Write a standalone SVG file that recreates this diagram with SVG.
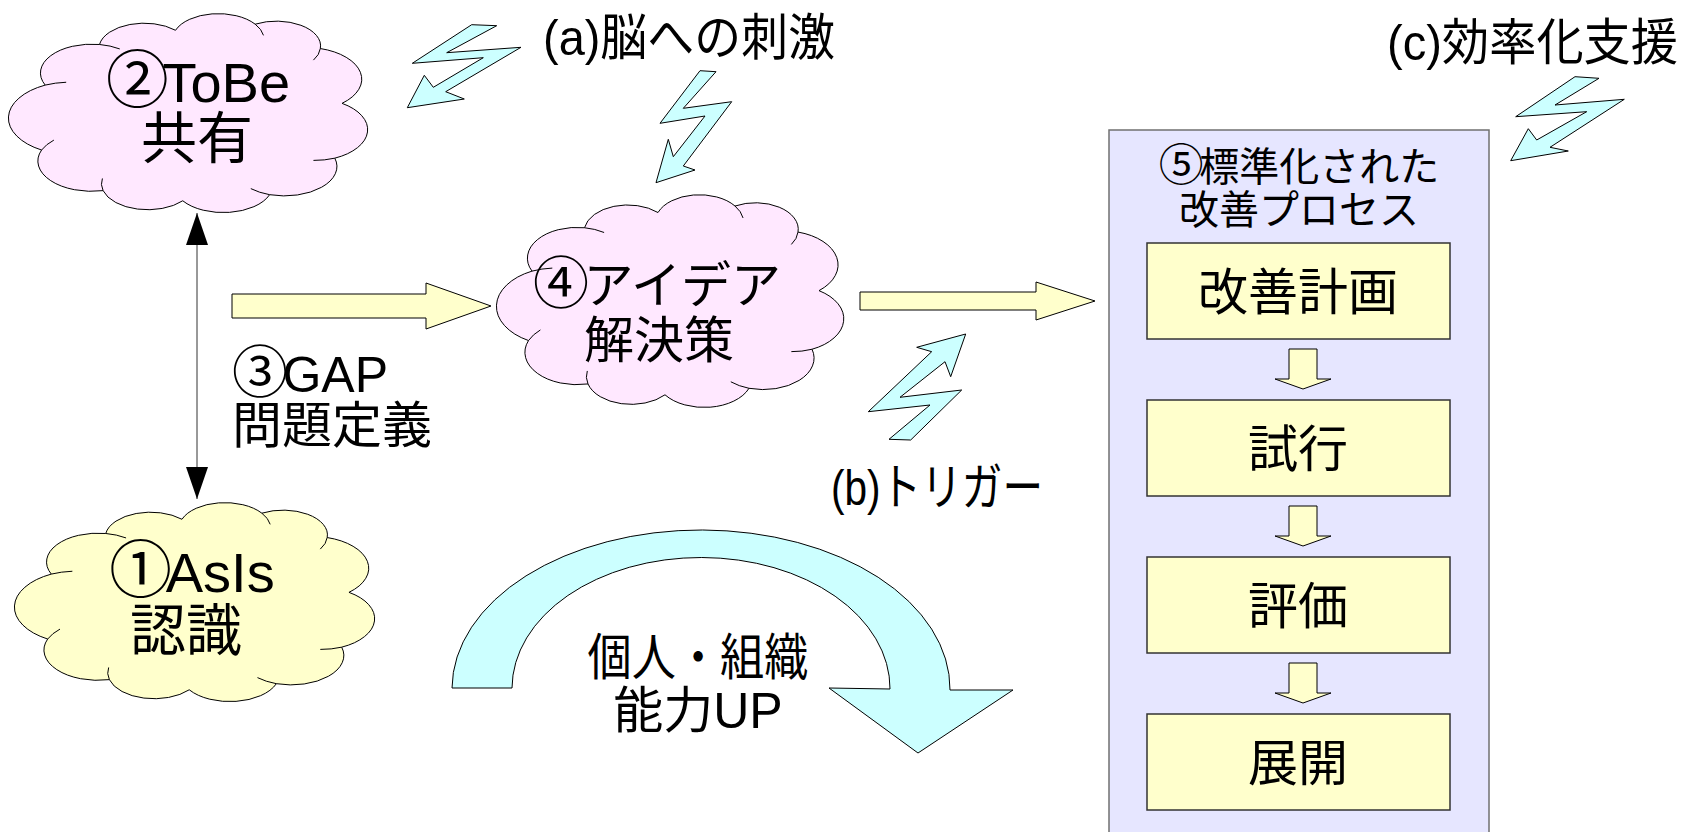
<svg xmlns="http://www.w3.org/2000/svg" width="1692" height="832" viewBox="0 0 1692 832">
<style>
text { font-family: "Liberation Sans", "Noto Sans CJK JP", sans-serif; fill: #000; }
.lbl { font-size: 50px; text-anchor: middle; }
.big { font-size: 56px; text-anchor: middle; }
.side { font-size: 50px; }
.title { font-size: 40px; text-anchor: middle; }
.cd { font-size: 1.12em; letter-spacing: -0.1em; }
.pink { fill: #ffe8ff; stroke: #000; stroke-width: 1; }
.cloudy { fill: #ffffcc; stroke: #000; stroke-width: 1; }
.inner { fill: none; stroke: #000; stroke-width: 1; }
.yel { fill: #ffffcc; stroke: #000; stroke-width: 1; }
.cyan { fill: #ccffff; stroke: #000; stroke-width: 1; }
.box { fill: #ffffcc; stroke: #333; stroke-width: 1.5; }
.cont { fill: #e6e6ff; stroke: #707070; stroke-width: 1.5; }
.line { stroke: #333; stroke-width: 1; fill: none; }
</style>
<defs>
<path id="cloud" vector-effect="non-scaling-stroke" d="M9,68 A18.1,18.1 0 0 1 10,36 A14.2,14.2 0 0 1 25,16 A12.5,12.5 0 0 1 46,9 A12.6,12.6 0 0 1 68,6 A12.2,12.2 0 0 1 86,18 A15.7,15.7 0 0 1 92,45 A15.4,15.4 0 0 1 90,72 A14.5,14.5 0 0 1 72,90 A13.7,13.7 0 0 1 48,93 A12.8,12.8 0 0 1 26,88 A14.9,14.9 0 0 1 9,68 Z"/>
<path id="cloudIn" vector-effect="non-scaling-stroke" d="M10,36 A18,18 0 0 1 15.8,34.6 M25,16 A14,14 0 0 1 30.6,18.2 M68,6 A12.6,12.6 0 0 1 70.3,11.5 M86,18 A12,12 0 0 1 84.1,23.7 M90,72 A15,15 0 0 1 84.1,73.1 M72,90 A14.5,14.5 0 0 1 66.8,87 M26,88 A12.8,12.8 0 0 1 25.8,82 M9,68 A15,15 0 0 1 12.4,63.1"/>
<marker id="tri" viewBox="0 0 32 22" refX="32" refY="11" markerWidth="32" markerHeight="22" markerUnits="userSpaceOnUse" orient="auto-start-reverse">
<path d="M0,0 L32,11 L0,22 Z" fill="#000"/>
</marker>
</defs>

<g id="tobe">
<use href="#cloud" class="pink" transform="translate(9,12) scale(3.62,2.03)"/>
<use href="#cloudIn" class="inner" transform="translate(9,12) scale(3.62,2.03)"/>
<text class="big" x="198" y="102"><tspan class="cd">②</tspan>ToBe</text>
<text class="big" x="197" y="158">共有</text>
</g>

<g id="idea">
<use href="#cloud" class="pink" transform="translate(497,193) scale(3.5,2.17)"/>
<use href="#cloudIn" class="inner" transform="translate(497,193) scale(3.5,2.17)"/>
<text class="lbl" x="657" y="303"><tspan class="cd">④</tspan>アイデア</text>
<text class="lbl" x="659" y="358">解決策</text>
</g>

<g id="asis">
<use href="#cloud" class="cloudy" transform="translate(15,501) scale(3.63,2.03)"/>
<use href="#cloudIn" class="inner" transform="translate(15,501) scale(3.63,2.03)"/>
<text class="big" x="192" y="592"><tspan class="cd">①</tspan>AsIs</text>
<text class="big" x="186" y="650">認識</text>
</g>

<g id="gap-label">
<text class="side" x="232" y="392"><tspan class="cd">③</tspan>GAP</text>
<text class="side" x="232" y="443">問題定義</text>
</g>

<g id="label-a">
<text class="side" x="543" y="55" textLength="292" lengthAdjust="spacingAndGlyphs">(a)脳への刺激</text>
</g>
<g id="label-b">
<text class="side" x="831" y="505" textLength="212" lengthAdjust="spacingAndGlyphs">(b)トリガー</text>
</g>
<g id="label-c">
<text class="side" x="1387" y="60" textLength="291" lengthAdjust="spacingAndGlyphs">(c)効率化支援</text>
</g>

<g id="cycle-label">
<text class="lbl" x="698" y="675" textLength="221" lengthAdjust="spacingAndGlyphs">個人・組織</text>
<text class="lbl" x="698" y="728">能力UP</text>
</g>

<g id="process">
<rect class="cont" x="1109" y="130" width="380" height="720"/>
<text class="title" x="1299" y="181"><tspan class="cd">⑤</tspan>標準化された</text>
<text class="title" x="1299" y="224">改善プロセス</text>
</g>
<g id="step-plan">
<rect class="box" x="1147" y="243" width="303" height="96"/>
<text class="lbl" x="1298" y="310">改善計画</text>
</g>
<g id="step-trial">
<rect class="box" x="1147" y="400" width="303" height="96"/>
<text class="lbl" x="1298" y="467">試行</text>
</g>
<g id="step-eval">
<rect class="box" x="1147" y="557" width="303" height="96"/>
<text class="lbl" x="1298" y="624">評価</text>
</g>
<g id="step-deploy">
<rect class="box" x="1147" y="714" width="303" height="96"/>
<text class="lbl" x="1298" y="781">展開</text>
</g>

<g id="connectors">
<line class="line" x1="197" y1="213" x2="197" y2="499" marker-start="url(#tri)" marker-end="url(#tri)"/>
<path class="yel" d="M232,294 L426,294 L426,283 L491,306 L426,329 L426,318 L232,318 Z"/>
<path class="yel" d="M860,292 L1036,292 L1036,282 L1095,301 L1036,320 L1036,310 L860,310 Z"/>
<path class="yel" d="M1289,349 H1317 V379 H1331 L1303,389 L1275,379 H1289 Z"/>
<path class="yel" d="M1289,506 H1317 V536 H1331 L1303,546 L1275,536 H1289 Z"/>
<path class="yel" d="M1289,663 H1317 V693 H1331 L1303,703 L1275,693 H1289 Z"/>
<path class="cyan" d="M452,688 A249,159 0 0 1 950,690 L1013,690 L918,753 L829,688 L890,689 A189,131 0 0 0 512,688 Z"/>
<polygon class="cyan" points="471.7,24.7 412.3,63.3 483.3,57.7 433.3,87.3 424.3,75.3 407.3,107.7 464.3,99 445.7,91.7 521,47.3 446.7,52.7 496.7,25.7"/>
<polygon class="cyan" points="700,70.7 660,123.3 705,116 673.3,156.7 668.3,139.3 656,182.7 695,170 683.3,166 731.7,101.7 683.3,108.3 716,71.7"/>
<polygon class="cyan" points="1575,76.7 1515.7,116.7 1586.7,111.7 1536.7,140 1528.3,128.7 1510.7,160.7 1568.3,151 1550,147.3 1624.3,99.3 1555,105 1599,78.3"/>
<polygon class="cyan" points="889,439.3 930,405 868.3,411.7 931.7,351.7 916.7,347.3 965.7,334 950.7,376.7 945,361.7 900,397.3 961.7,390 910.7,440"/>
</g>
</svg>
